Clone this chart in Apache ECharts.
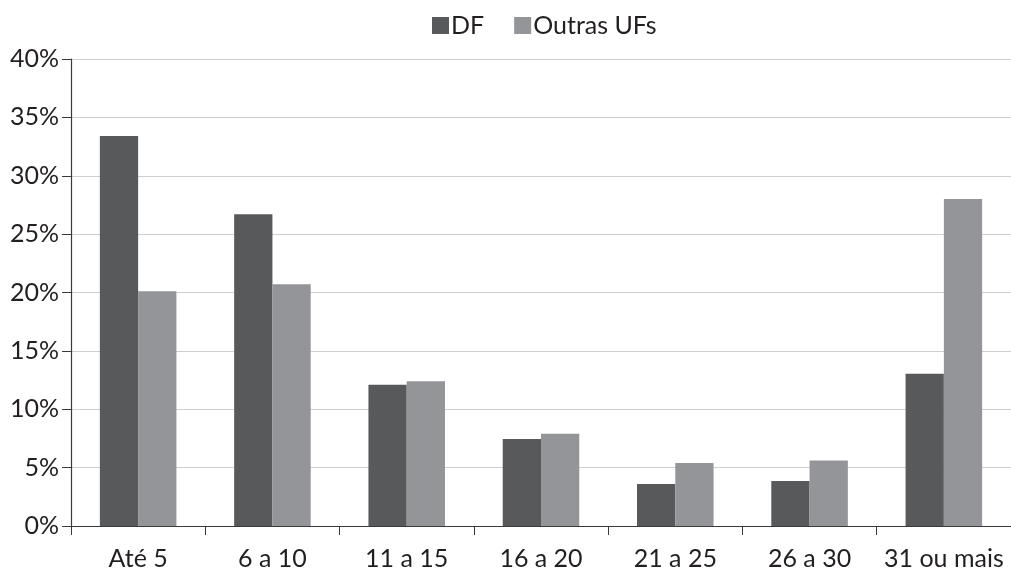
<!DOCTYPE html>
<html>
<head>
<meta charset="utf-8">
<script src="https://cdn.jsdelivr.net/npm/echarts@6/dist/echarts.min.js"></script>
<style>
  html, body { margin: 0; padding: 0; background: #ffffff; }
  #chart { width: 1011px; height: 576px; }
</style>
</head>
<body>
<div id="chart"></div>
<script>
// Faixas de tempo (anos) e percentuais por origem
const categories = ['Até 5', '6 a 10', '11 a 15', '16 a 20', '21 a 25', '26 a 30', '31 ou mais'];
const dfValues = [33.4, 26.7, 12.1, 7.45, 3.6, 3.85, 13.05];
const outrasValues = [20.1, 20.7, 12.4, 7.9, 5.4, 5.6, 28.0];
const seriesNames = ['DF', 'Outras UFs'];

const FONT = 'Lato, "Open Sans", sans-serif';
const TEXT = '#231f20';

const chart = echarts.init(document.getElementById('chart'), null, { renderer: 'canvas' });
chart.setOption({
  animation: false,
  textStyle: { fontFamily: FONT, color: TEXT },
  legend: {
    top: 8,
    left: 427,
    itemWidth: 17,
    itemHeight: 17,
    itemGap: 30,
    icon: 'rect',
    textStyle: { fontSize: 25, fontFamily: FONT, color: TEXT, padding: [0, 0, 0, -3] },
    data: seriesNames
  },
  grid: { left: 71, right: -4, top: 59, bottom: 50, containLabel: false },
  xAxis: {
    type: 'category',
    data: categories,
    boundaryGap: true,
    axisLine: { lineStyle: { color: '#3a3a3a', width: 1.2 } },
    axisTick: { show: true, interval: 0, length: 9, lineStyle: { color: '#3a3a3a' } },
    axisLabel: { fontSize: 25, color: TEXT, margin: 20, fontFamily: FONT, interval: 0 }
  },
  yAxis: {
    type: 'value',
    min: 0,
    max: 40,
    interval: 5,
    axisLine: { show: true, lineStyle: { color: '#3a3a3a', width: 1.2 } },
    axisTick: { show: true, length: 9, lineStyle: { color: '#3a3a3a' } },
    axisLabel: { fontSize: 25, color: TEXT, margin: 12, fontFamily: FONT, formatter: '{value}%' },
    splitLine: { show: true, lineStyle: { color: '#cfcfcf', width: 1 } }
  },
  series: [
    {
      name: seriesNames[0],
      type: 'bar',
      data: dfValues,
      barGap: '0%',
      barCategoryGap: '43%',
      itemStyle: { color: '#58595b' }
    },
    {
      name: seriesNames[1],
      type: 'bar',
      data: outrasValues,
      barGap: '0%',
      barCategoryGap: '43%',
      itemStyle: { color: '#939598' }
    }
  ]
});
</script>
</body>
</html>
